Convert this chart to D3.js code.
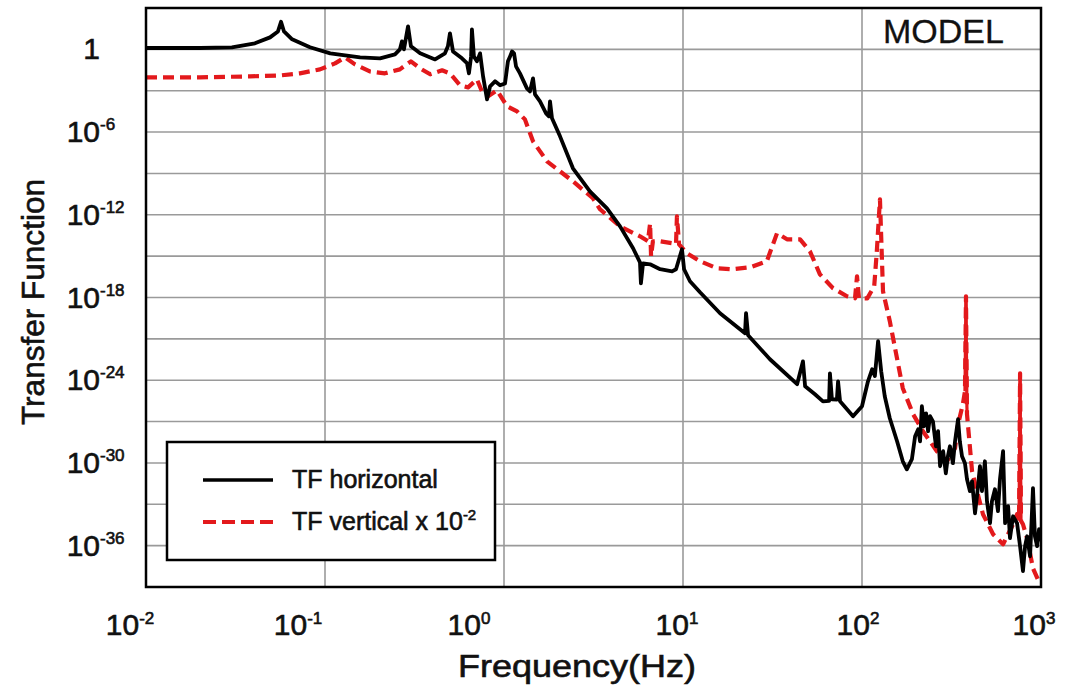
<!DOCTYPE html>
<html><head><meta charset="utf-8">
<script src="https://cdn.jsdelivr.net/npm/d3@7"></script>
<style>
body{margin:0;background:#fff;}
svg{display:block;font-family:"Liberation Sans",Arial,Helvetica,sans-serif;}
svg text{fill:#111;stroke:#111;stroke-width:0.6px;}
</style></head><body>
<svg id="chart" width="1066" height="689"></svg>
<script>
// ---- DATA (frequency in Hz, log10 of transfer-function magnitude) ----
const tfHorizontal = [
[0.01,0.1],[0.02,0.1],[0.0302,0.15],[0.0406,0.44],[0.0493,0.87],[0.0546,1.3],[0.0568,2.0],[0.059,1.3],[0.0655,0.73],[0.0824,0.15],
[0.107,-0.29],[0.157,-0.58],[0.203,-0.65],[0.246,-0.36],[0.262,0],[0.269,0.58],[0.276,0],[0.291,1.67],[0.302,0.22],[0.34,-0.29],
[0.412,-0.73],[0.468,-0.29],[0.486,0.22],[0.499,1.16],[0.519,-0.15],[0.582,-0.65],[0.621,-1.0],[0.637,-1.74],[0.655,-0.51],[0.662,1.45],
[0.679,-0.51],[0.706,-0.87],[0.735,-0.29],[0.764,-1.96],[0.804,-3.63],[0.836,-2.68],[0.891,-2.32],[0.951,-2.61],[1.013,-2.47],[1.052,-0.87],
[1.081,-0.51],[1.109,-0.15],[1.138,-0.29],[1.167,-1.23],[1.228,-1.74],[1.343,-2.83],[1.397,-3.05],[1.452,-2.1],[1.49,-3.26],[1.589,-3.77],
[1.718,-4.64],[1.783,-4.86],[1.807,-3.77],[1.854,-5.0],[2.056,-6.31],[2.427,-8.63],[3.02,-10.3],[3.76,-11.53],[4.45,-12.84],[5.26,-14.43],
[5.75,-15.45],[5.82,-16.97],[5.98,-15.52],[6.55,-15.59],[7.45,-15.95],[8.69,-16.1],[9.14,-15.95],[9.87,-14.5],[10.14,-15.95],[10.94,-16.82],
[12.45,-17.62],[16.1,-19.14],[22.2,-20.6],[22.5,-19.14],[23.1,-20.74],[30.6,-22.48],[43.4,-24.29],[46.8,-22.63],[48.1,-24.44],[54.6,-25.02],
[60.5,-25.53],[65.5,-25.5],[66.2,-23.5],[67.9,-25.38],[72.4,-25.4],[73.5,-24.08],[75.4,-25.53],[89.1,-26.61],[100,-25.89],[108,-24.08],
[114,-23.2],[118,-23.7],[123,-21.17],[128,-23.35],[134,-25.16],[143,-26.76],[157,-28.43],[169,-29.88],[178,-30.46],[190,-29.73],
[198,-28.06],[206,-27.56],[211,-28.43],[216,-25.89],[222,-27.34],[228,-26.4],[234,-27.7],[240,-26.6],[249,-26.98],[259,-28.8],
[266,-27.7],[273,-30.24],[284,-29.15],[294,-30.75],[302,-29.51],[310,-28.79],[322,-30.02],[331,-28.43],[344,-26.83],[352,-28.43],
[362,-29.51],[376,-30.02],[386,-31.18],[401,-32.05],[412,-31.33],[428,-33.65],[439,-32.41],[456,-30.24],[468,-32.05],[486,-29.88],
[499,-32.78],[519,-34.37],[532,-32.78],[553,-31.91],[575,-33.5],[590,-31.18],[614,-29.15],[630,-34.37],[655,-33.14],[671,-35.46],
[698,-33.87],[735,-34.37],[764,-36.04],[793,-37.85],[815,-36.04],[836,-35.32],[869,-36.77],[902,-31.83],[925,-35.32],[951,-36.04],
[975,-34.8],[1000,-35.68]
];
const tfVertical = [
[0.01,-2.03],[0.02,-2.03],[0.0381,-1.96],[0.0561,-1.89],[0.0724,-1.74],[0.0937,-1.45],[0.1138,-1.02],[0.1295,-0.58],[0.147,-1.09],[0.178,-1.6],
[0.216,-1.74],[0.262,-1.45],[0.302,-0.87],[0.34,-1.38],[0.387,-1.81],[0.451,-1.52],[0.499,-1.74],[0.568,-2.61],[0.63,-2.76],[0.706,-2.18],
[0.753,-3.05],[0.815,-3.41],[0.914,-2.97],[1.04,-4.13],[1.183,-4.5],[1.309,-5.08],[1.452,-6.67],[1.739,-8.12],[2.056,-8.85],[2.427,-9.57],
[3.14,-10.8],[3.44,-11.6],[4.45,-12.84],[5.75,-13.56],[6.37,-13.92],[6.55,-12.62],[6.63,-15.0],[6.79,-13.92],[7.45,-13.92],[8.79,-14.07],
[9.14,-14.14],[9.25,-12.11],[9.51,-14.14],[10.52,-14.79],[12.45,-15.37],[15.5,-15.88],[19.0,-15.95],[23.7,-15.81],[29.4,-15.37],[33.5,-13.34],
[38.1,-13.78],[45.1,-13.78],[51.2,-14.65],[58.2,-16.32],[68.9,-17.33],[82.4,-17.91],[91.4,-18.06],[93.8,-16.46],[96.2,-18.06],[107,-18.06],
[117,-17.19],[121,-14.65],[126,-10.88],[131,-17.55],[143,-19.72],[169,-24.58],[193,-26.47],[219,-27.7],[262,-29.15],[298,-29.88],
[331,-28.93],[344,-27.19],[366,-25.74],[376,-24.8],[381,-17.91],[386,-26.47],[412,-30.6],[439,-32.05],[474,-33.72],[540,-35.17],
[614,-35.9],[698,-34.45],[735,-33.72],[754,-34.2],[764,-23.5],[773,-34.2],[793,-34.45],[836,-35.46],[902,-37.64],[987,-38.8]
];
const xTickValues = [0.01, 0.1, 1, 10, 100, 1000];
const xTickExponents = ["-2", "-1", "0", "1", "2", "3"];
const yLabelExponents = [0, -6, -12, -18, -24, -30, -36];
const yGridExponents = [0, -3, -6, -9, -12, -15, -18, -21, -24, -27, -30, -33, -36];
const legendLabels = ["TF horizontal", "TF vertical x 10"];
const xTitle = "Frequency(Hz)";
const yTitle = "Transfer Function";
const cornerNote = "MODEL";

// ---- LAYOUT ----
const L = 146, R = 1041, T = 8, B = 587;
const xLabelShift = [-16, -27, -35, -6, -4, -7];
const svg = d3.select("#chart");
const x = d3.scaleLog().domain([0.01, 1000]).range([L, R]);
const y = d3.scaleLog().domain([1e3, 1e-39]).range([T, B]);
const grid = "#9a9a9a";
const red = "#e3191c";

// grid
svg.append("g").selectAll("line").data(xTickValues).join("line")
  .attr("x1", d => x(d)).attr("x2", d => x(d)).attr("y1", T).attr("y2", B)
  .attr("stroke", grid).attr("stroke-width", 1.6);
svg.append("g").selectAll("line").data(yGridExponents).join("line")
  .attr("x1", L).attr("x2", R).attr("y1", d => y(Math.pow(10, d))).attr("y2", d => y(Math.pow(10, d)))
  .attr("stroke", grid).attr("stroke-width", 1.6);

// curves
svg.append("clipPath").attr("id", "clip").append("rect")
  .attr("x", L).attr("y", T).attr("width", R - L).attr("height", B - T);
const line = d3.line().x(d => x(d[0])).y(d => y(Math.pow(10, d[1])));
const plot = svg.append("g").attr("clip-path", "url(#clip)");
plot.append("path").datum(tfVertical).attr("d", line)
  .attr("fill", "none").attr("stroke", red).attr("stroke-width", 4.2)
  .attr("stroke-dasharray", "11,6").attr("stroke-linejoin", "round");
// very narrow resonances render as continuous strokes
const narrow = [];
for (let i = 1; i < tfVertical.length; i++) {
  const a = tfVertical[i - 1], b = tfVertical[i];
  if (Math.abs(x(b[0]) - x(a[0])) < 2 && Math.abs(y(Math.pow(10, b[1])) - y(Math.pow(10, a[1]))) > 50) narrow.push([a, b]);
}
plot.append("g").selectAll("path").data(narrow).join("path").attr("d", line)
  .attr("fill", "none").attr("stroke", red).attr("stroke-width", 3.2);
plot.append("path").datum(tfHorizontal).attr("d", line)
  .attr("fill", "none").attr("stroke", "#000").attr("stroke-width", 3.8).attr("stroke-linejoin", "round");

// frame
svg.append("rect").attr("x", L).attr("y", T).attr("width", R - L).attr("height", B - T)
  .attr("fill", "none").attr("stroke", "#000").attr("stroke-width", 2.5);

// x tick labels
const xl = svg.append("g").selectAll("text").data(xTickValues).join("text")
  .attr("x", (d, i) => x(d) + xLabelShift[i]).attr("y", 635)
  .attr("text-anchor", "middle").attr("font-size", 30);
xl.append("tspan").text("10");
xl.append("tspan").attr("dx", 0).attr("dy", -11).attr("font-size", 17).text((d, i) => xTickExponents[i]);

// y tick labels
const yl = svg.append("g").selectAll("g").data(yLabelExponents).join("g");
yl.append("text").attr("x", 100).attr("y", d => y(Math.pow(10, d)) + 10)
  .attr("text-anchor", "end").attr("font-size", 30)
  .text(d => d === 0 ? "1" : "10");
yl.filter(d => d !== 0).append("text").attr("x", 100).attr("y", d => y(Math.pow(10, d)) - 2)
  .attr("font-size", 17).text(d => String(d));

// axis titles
svg.append("text").attr("x", 577).attr("y", 677).attr("text-anchor", "middle")
  .attr("font-size", 31).attr("textLength", 238).attr("lengthAdjust", "spacingAndGlyphs").text(xTitle);
svg.append("text").attr("transform", "translate(44,302) rotate(-90)").attr("text-anchor", "middle")
  .attr("font-size", 31).attr("textLength", 246).attr("lengthAdjust", "spacingAndGlyphs").text(yTitle);

// MODEL label
svg.append("text").attr("x", 883).attr("y", 43).attr("font-size", 34)
  .style("stroke-width", "0.3px").text(cornerNote);

// legend
svg.append("rect").attr("x", 167).attr("y", 442).attr("width", 328).attr("height", 118)
  .attr("fill", "#fff").attr("stroke", "#000").attr("stroke-width", 2.5);
svg.append("line").attr("x1", 203).attr("x2", 273).attr("y1", 480).attr("y2", 480)
  .attr("stroke", "#000").attr("stroke-width", 3.5);
svg.append("line").attr("x1", 203).attr("x2", 273).attr("y1", 522).attr("y2", 522)
  .attr("stroke", red).attr("stroke-width", 4).attr("stroke-dasharray", "13,6");
svg.append("text").attr("x", 292).attr("y", 488).attr("font-size", 25).text(legendLabels[0]);
const lt = svg.append("text").attr("x", 292).attr("y", 530).attr("font-size", 25);
lt.append("tspan").text(legendLabels[1]);
lt.append("tspan").attr("dx", 0).attr("dy", -10).attr("font-size", 15).text("-2");
</script>
</body></html>
